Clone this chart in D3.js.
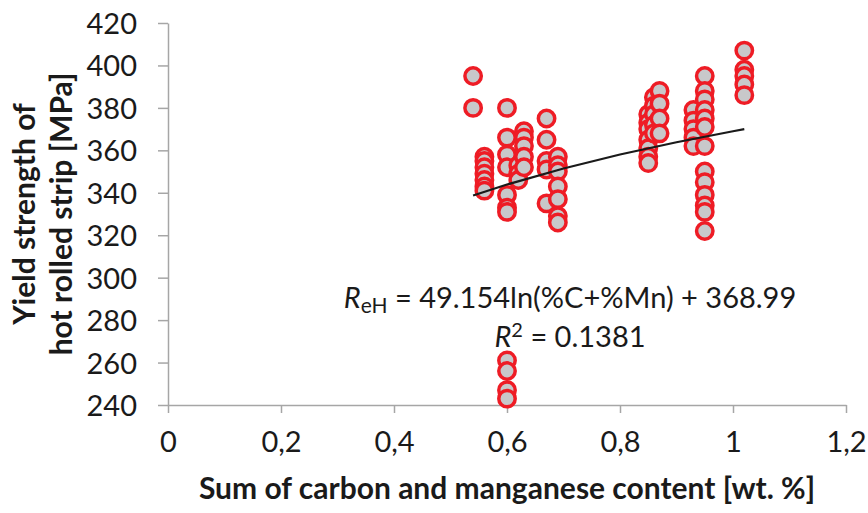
<!DOCTYPE html>
<html>
<head>
<meta charset="utf-8">
<script src="https://cdn.jsdelivr.net/npm/d3@7"></script>
<style>
  body { margin: 0; background: #fff; }
  text { font-family: Lato, "Open Sans", sans-serif; fill: #1a1a1a; }
</style>
</head>
<body>
<div id="chart"></div>
<script>
// carbon + manganese content [wt. %] and yield strength [MPa]
var xValues = [
  0.54, 0.54,
  0.56, 0.56, 0.56, 0.56, 0.56, 0.56, 0.56,
  0.60, 0.60, 0.60, 0.60, 0.60, 0.60, 0.60, 0.60, 0.60, 0.60, 0.60,
  0.62, 0.62, 0.62,
  0.63, 0.63, 0.63, 0.63, 0.63,
  0.67, 0.67, 0.67, 0.67, 0.67,
  0.69, 0.69, 0.69, 0.69, 0.69, 0.69, 0.69,
  0.85, 0.85, 0.85, 0.85, 0.85, 0.85, 0.85,
  0.86, 0.86, 0.86, 0.86, 0.86,
  0.87, 0.87, 0.87, 0.87,
  0.93, 0.93, 0.93, 0.93, 0.93,
  0.95, 0.95, 0.95, 0.95, 0.95, 0.95, 0.95, 0.95, 0.95, 0.95, 0.95, 0.95, 0.95,
  1.02, 1.02, 1.02, 1.02, 1.02
];
var yValues = [
  395, 380,
  357, 355, 352, 349, 346, 343, 341,
  380, 366, 358, 352, 339, 333, 331, 261, 256, 247, 243,
  353, 349, 346,
  369, 366, 362, 357, 352,
  375, 365, 355, 351, 335,
  357, 353, 350, 343, 337, 329, 326,
  377, 373, 370, 365, 361, 357, 354,
  385, 381, 377, 372, 368,
  388, 382, 375, 368,
  379, 374, 370, 366, 362,
  395, 388, 384, 379, 375, 371, 362, 350, 345, 339, 334, 331, 322,
  407, 398, 395, 391, 386
];
var xTicks = [0, 0.2, 0.4, 0.6, 0.8, 1, 1.2];
var yTicks = [240, 260, 280, 300, 320, 340, 360, 380, 400, 420];

// logarithmic trend line: R = 49.154 ln(x) + 368.99
var trendA = 49.154, trendB = 368.99;
var trendX = [0.54, 0.6, 0.7, 0.8, 0.9, 1.0, 1.02];

var width = 868, height = 513;
var margin = {top: 23, right: 22, bottom: 108, left: 168};

var svg = d3.select("#chart")
    .append("svg")
    .attr("width", width)
    .attr("height", height);

var xScale = d3.scaleLinear()
    .domain([0, 1.2])
    .range([margin.left, width - margin.right]);

var yScale = d3.scaleLinear()
    .domain([240, 420])
    .range([height - margin.bottom, margin.top]);

var commaFormat = function(d) { return String(d).replace(".", ","); };

// x axis
var gX = svg.append("g")
    .attr("transform", "translate(0," + (height - margin.bottom) + ")")
    .call(d3.axisBottom(xScale).tickValues(xTicks).tickSize(8).tickSizeOuter(0).tickFormat(commaFormat));

// y axis
var gY = svg.append("g")
    .attr("transform", "translate(" + margin.left + ",0)")
    .call(d3.axisLeft(yScale).tickValues(yTicks).tickSize(10).tickSizeOuter(0));

[gX, gY].forEach(function(g) {
  g.selectAll("path, line").attr("stroke", "#a6a6a6").attr("stroke-width", 1.5);
  g.selectAll("text").attr("font-size", 29).attr("font-family", "Lato, sans-serif").attr("fill", "#1a1a1a");
});
gX.selectAll("text").attr("y", 47).attr("dy", 0);
gY.selectAll("text").attr("x", -31).attr("dy", "0.36em");

// trend line
var line = d3.line()
    .x(function(d) { return xScale(d); })
    .y(function(d) { return yScale(trendA * Math.log(d) + trendB); });

// points
svg.append("g")
  .selectAll("circle")
  .data(xValues)
  .enter()
  .append("circle")
    .attr("cx", function(d) { return xScale(d); })
    .attr("cy", function(d, i) { return yScale(yValues[i]); })
    .attr("r", 8.2)
    .attr("fill", "#c8c8ca")
    .attr("stroke", "#ee1c25")
    .attr("stroke-width", 3.5);

svg.append("path")
    .datum(trendX)
    .attr("d", line)
    .attr("fill", "none")
    .attr("stroke", "#1a1a1a")
    .attr("stroke-width", 2.2);

// equation
var eq = svg.append("text")
    .attr("x", 570)
    .attr("y", 308)
    .attr("text-anchor", "middle")
    .attr("font-size", 29);
eq.append("tspan").attr("font-style", "italic").text("R");
eq.append("tspan").attr("font-size", 21).attr("dy", 5).text("eH");
eq.append("tspan").attr("dy", -5).text(" = 49.154ln(%C+%Mn) + 368.99");

var r2 = svg.append("text")
    .attr("x", 570)
    .attr("y", 347)
    .attr("text-anchor", "middle")
    .attr("font-size", 29);
r2.append("tspan").attr("font-style", "italic").text("R");
r2.append("tspan").attr("font-size", 20).attr("dy", -10).text("2");
r2.append("tspan").attr("dy", 10).text(" = 0.1381");

// axis titles
svg.append("text")
    .attr("x", xScale(0.6))
    .attr("y", 499)
    .attr("text-anchor", "middle")
    .attr("font-size", 30)
    .attr("font-weight", "bold")
    .text("Sum of carbon and manganese content [wt. %]");

var yTitle = svg.append("text")
    .attr("transform", "translate(0," + yScale(330) + ") rotate(-90)")
    .attr("text-anchor", "middle")
    .attr("font-size", 30)
    .attr("font-weight", "bold");
yTitle.append("tspan").attr("x", 0).attr("y", 35).text("Yield strength of");
yTitle.append("tspan").attr("x", 0).attr("y", 72).text("hot rolled strip [MPa]");
</script>
</body>
</html>
